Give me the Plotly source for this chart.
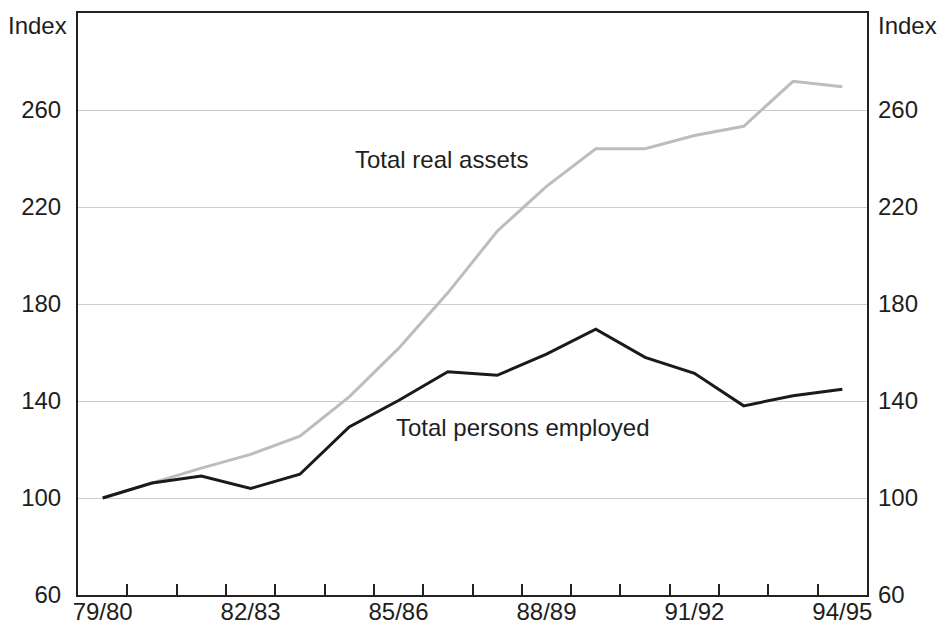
import plotly.graph_objects as go

years = ["79/80", "80/81", "81/82", "82/83", "83/84", "84/85", "85/86", "86/87",
         "87/88", "88/89", "89/90", "90/91", "91/92", "92/93", "93/94", "94/95"]
real_assets = [100, 106.2, 112.3, 118.0, 125.5, 141.7, 161.7, 184.6,
               210.0, 228.5, 244.0, 244.0, 249.5, 253.3, 271.8, 269.6]
persons_employed = [100, 106.2, 109.1, 103.9, 109.8, 129.3, 140.2, 152.1,
                    150.6, 159.3, 169.6, 158.0, 151.4, 138.0, 142.2, 144.8]
y_ticks = [60, 100, 140, 180, 220, 260]
label_years = ["79/80", "82/83", "85/86", "88/89", "91/92", "94/95"]

xs = list(range(len(years)))
label_pos = [years.index(l) for l in label_years]
boundaries = [i + 0.5 for i in xs[:-1]]

FONT = "Liberation Sans, Arial, sans-serif"
TXT = "#1e1e1e"
FS = 24

fig = go.Figure()
fig.add_trace(go.Scatter(x=xs, y=real_assets, mode="lines",
                         line=dict(color="#bdbdc0", width=3), showlegend=False,
                         hoverinfo="skip"))
fig.add_trace(go.Scatter(x=xs, y=persons_employed, mode="lines",
                         line=dict(color="#1a1a1a", width=3), showlegend=False,
                         hoverinfo="skip"))
# invisible trace for right axis
fig.add_trace(go.Scatter(x=[xs[0]], y=[None], yaxis="y2", xaxis="x2",
                         showlegend=False, hoverinfo="skip"))

xr = [-0.5, len(years) - 0.5]
fig.update_layout(
    width=938, height=625,
    margin=dict(l=78, r=71, t=13, b=30),
    paper_bgcolor="white", plot_bgcolor="white",
    font=dict(family=FONT, size=FS, color=TXT),
    xaxis=dict(range=xr, tickmode="array", tickvals=boundaries,
               ticks="inside", ticklen=11, tickwidth=1.5, tickcolor="#222",
               showticklabels=False, showgrid=False, zeroline=False,
               showline=True, linecolor="#222", linewidth=2, mirror=True,
               automargin=False),
    xaxis2=dict(range=xr, overlaying="x", anchor="y", side="bottom",
                tickmode="array", tickvals=label_pos, ticktext=label_years,
                ticks="", showgrid=False, zeroline=False, showline=False,
                tickfont=dict(size=FS, color=TXT), automargin=False),
    yaxis=dict(range=[60, 300], tickmode="array", tickvals=y_ticks,
               ticks="", showgrid=True, gridcolor="#cccccc", gridwidth=1.2,
               zeroline=False, showline=True, linecolor="#222", linewidth=2,
               mirror=True, ticklabelstandoff=10, automargin=False,
               tickfont=dict(size=FS, color=TXT)),
    yaxis2=dict(range=[60, 300], tickmode="array", tickvals=y_ticks,
                overlaying="y", side="right", anchor="x", ticks="",
                showgrid=False, zeroline=False, showline=False,
                ticklabelstandoff=10, automargin=False,
                tickfont=dict(size=FS, color=TXT)),
)

fig.add_annotation(text="Index", xref="paper", yref="paper", x=0, y=0.979,
                   xanchor="right", yanchor="middle", xshift=-9,
                   showarrow=False, font=dict(size=FS, color=TXT))
fig.add_annotation(text="Index", xref="paper", yref="paper", x=1, y=0.979,
                   xanchor="left", yanchor="middle", xshift=9,
                   showarrow=False, font=dict(size=FS, color=TXT))
fig.add_annotation(text="Total real assets", x=6.87, y=239.5, xref="x", yref="y",
                   xanchor="center", yanchor="middle", showarrow=False,
                   font=dict(size=FS, color=TXT))
fig.add_annotation(text="Total persons employed", x=8.52, y=129.2, xref="x", yref="y",
                   xanchor="center", yanchor="middle", showarrow=False,
                   font=dict(size=FS, color=TXT))

fig.write_html("out.html", config={"displayModeBar": False},
               post_script="document.body.style.margin='0';document.body.style.overflow='hidden';")
